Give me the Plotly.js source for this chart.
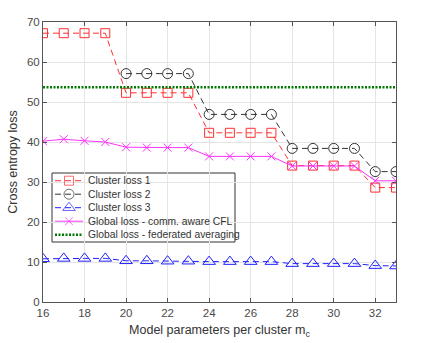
<!DOCTYPE html>
<html>
<head>
<meta charset="utf-8">
<script src="https://cdn.plot.ly/plotly-3.0.1.min.js"></script>
<style>
  html, body { margin: 0; padding: 0; background: #fff; }
  #chart { width: 423px; height: 343px; }
</style>
</head>
<body>
<div id="chart"></div>
<script>
// model parameters per cluster
const params = [16, 17, 18, 19, 20, 21, 22, 23, 24, 25, 26, 27, 28, 29, 30, 31, 32, 33];

const cluster1 = [67.2, 67.2, 67.2, 67.2, 52.3, 52.3, 52.3, 52.3, 42.3, 42.3, 42.3, 42.3, 34.1, 34.1, 34.1, 34.1, 28.6, 28.6];
// cluster 2 only starts at 20
const params2 = [20, 21, 22, 23, 24, 25, 26, 27, 28, 29, 30, 31, 32, 33];
const cluster2 = [57.1, 57.1, 57.1, 57.1, 46.9, 46.9, 46.9, 46.9, 38.4, 38.4, 38.4, 38.4, 32.6, 32.6];
const cluster3 = [10.8, 10.9, 10.9, 10.9, 10.3, 10.3, 10.2, 10.2, 10.1, 10.1, 10.1, 10.1, 9.6, 9.6, 9.6, 9.6, 9.1, 9.0];
const globalCfl = [40.2, 40.7, 40.3, 40.0, 38.7, 38.6, 38.6, 38.6, 36.4, 36.4, 36.4, 36.4, 34.0, 34.0, 34.0, 34.0, 30.3, 30.3];
const fedAvg = 53.7;

const seriesNames = [
  'Cluster loss 1',
  'Cluster loss 2',
  'Cluster loss 3',
  'Global loss - comm. aware CFL',
  'Global loss - federated averaging',
];

const xTicks = [16, 18, 20, 22, 24, 26, 28, 30, 32];
const yTicks = [0, 10, 20, 30, 40, 50, 60, 70];

const font = 'Liberation Sans, Arial, sans-serif';

// plot area in pixels, used for the hand made (matlab style) legend
const W = 423, H = 343;
const M = { l: 43, r: 27, t: 22, b: 41 };
const px = (x) => (x - M.l) / (W - M.l - M.r);
const py = (y) => (H - M.b - y) / (H - M.t - M.b);

const styles = [
  { line: { color: '#ff3030', width: 1, dash: '6px,4px' },
    marker: { symbol: 'square-open', size: 9, color: '#ff3030', line: { width: 1 } } },
  { line: { color: '#333333', width: 1, dash: '6px,4px' },
    marker: { symbol: 'circle-open', size: 10, color: '#333333', line: { width: 1 } } },
  { line: { color: '#2020ff', width: 1, dash: '6px,4px' },
    marker: { symbol: 'triangle-up-open', size: 11, color: '#2020ff', line: { width: 1 } } },
  { line: { color: '#ff33ff', width: 1 },
    marker: { symbol: 'x-thin-open', size: 8, color: '#ff33ff', line: { width: 1, color: '#ff33ff' } } },
  { line: { color: '#007a00', width: 2.5, dash: '2px,1.5px' }, marker: null },
];

const seriesX = [params, params2, params, params, [params[0], params[params.length - 1]]];
const seriesY = [cluster1, cluster2, cluster3, globalCfl, [fedAvg, fedAvg]];

const data = seriesNames.map((name, i) => {
  const t = {
    x: seriesX[i],
    y: seriesY[i],
    name,
    mode: styles[i].marker ? 'lines+markers' : 'lines',
    line: styles[i].line,
  };
  if (styles[i].marker) t.marker = styles[i].marker;
  return t;
});

// legend
const box = { x0: 52, x1: 235, y0: 173, y1: 242 };
const rowY = [180.7, 194.2, 207.7, 221.2, 234.7];
const sampleX = [55, 83];

const shapes = [{
  type: 'rect', xref: 'paper', yref: 'paper', layer: 'between',
  x0: px(box.x0), x1: px(box.x1), y0: py(box.y0), y1: py(box.y1),
  fillcolor: '#ffffff', line: { color: '#333333', width: 1 },
}];

const annotations = [];
seriesNames.forEach((name, i) => {
  const ys = py(rowY[i]);
  const xm = px((sampleX[0] + sampleX[1]) / 2);
  const t = {
    x: [px(sampleX[0]), xm, px(sampleX[1])],
    y: [ys, ys, ys],
    xaxis: 'x2', yaxis: 'y2',
    mode: styles[i].marker ? 'lines+markers' : 'lines',
    line: styles[i].line,
    hoverinfo: 'skip',
    showlegend: false,
  };
  if (styles[i].marker) {
    t.marker = Object.assign({}, styles[i].marker, { size: [0, styles[i].marker.size, 0] });
  }
  data.push(t);
  annotations.push({
    xref: 'paper', yref: 'paper',
    x: px(86), y: ys, xanchor: 'left', yanchor: 'middle',
    text: name, showarrow: false,
    font: { family: font, size: 10.3, color: '#333333' },
  });
});

const layout = {
  width: W,
  height: H,
  margin: M,
  paper_bgcolor: '#ffffff',
  plot_bgcolor: '#ffffff',
  font: { family: font, size: 11.5, color: '#4a4a4a' },
  showlegend: false,
  shapes,
  annotations,
  xaxis: {
    range: [16, 33],
    tickvals: xTicks,
    ticks: 'inside', ticklen: 4, tickcolor: '#555',
    showgrid: true, gridcolor: '#e4e4e4',
    showline: true, linecolor: '#555', linewidth: 1, mirror: 'ticks',
    zeroline: false,
    title: { text: 'Model parameters per cluster m<sub>c</sub>', font: { size: 12.5, color: '#333' }, standoff: 7 },
  },
  yaxis: {
    range: [0, 70],
    tickvals: yTicks,
    ticks: 'inside', ticklen: 4, tickcolor: '#555',
    showgrid: true, gridcolor: '#e4e4e4',
    showline: true, linecolor: '#555', linewidth: 1, mirror: 'ticks',
    zeroline: false,
    title: { text: 'Cross entropy loss', font: { size: 12.5, color: '#333' }, standoff: 6 },
  },
  xaxis2: { overlaying: 'x', range: [0, 1], visible: false, fixedrange: true },
  yaxis2: { overlaying: 'y', range: [0, 1], visible: false, fixedrange: true },
};

Plotly.newPlot('chart', data, layout, { staticPlot: true });
</script>
</body>
</html>
